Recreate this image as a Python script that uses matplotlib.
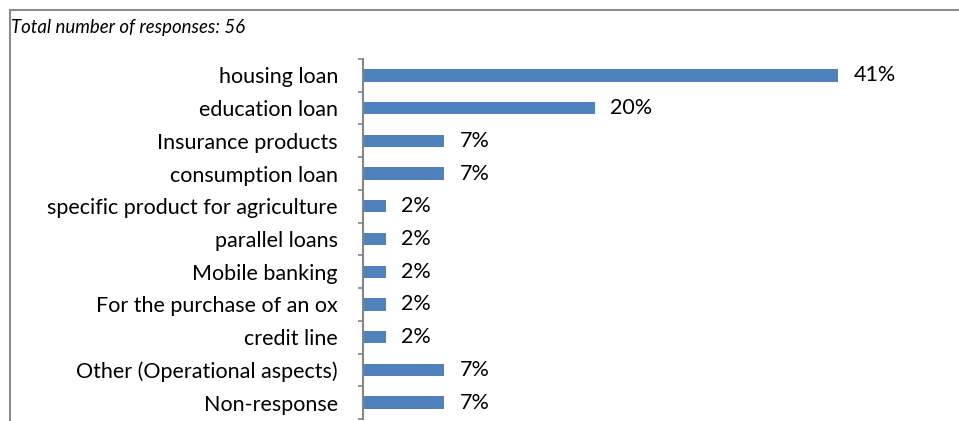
import numpy as np
import matplotlib
matplotlib.use("Agg")
import matplotlib.pyplot as plt
from matplotlib.lines import Line2D

# Responses per product type (share of 56 responses, in %)
categories = [
    "housing loan",
    "education loan",
    "Insurance products",
    "consumption loan",
    "specific product for agriculture",
    "parallel loans",
    "Mobile banking",
    "For the purchase of an ox",
    "credit line",
    "Other (Operational aspects)",
    "Non-response",
]
shares = [41, 20, 7, 7, 2, 2, 2, 2, 2, 7, 7]
value_labels = [f"{v}%" for v in shares]
note = "Total number of responses: 56"

BAR_COLOR = "#4F81BD"
AXIS_GRAY = "#868686"
FONT = "Lato"

W, H = 959, 421
fig = plt.figure(figsize=(W / 100, H / 100), dpi=100)

# plot area in pixel coordinates
left_px, top_px, bottom_px = 363, 59, 419
xmax = 50
px_per_unit = 11.59
ax = fig.add_axes([left_px / W, 1 - bottom_px / H,
                   xmax * px_per_unit / W, (bottom_px - top_px) / H])

y = np.arange(len(categories))
ax.barh(y, shares, height=0.38, color=BAR_COLOR, edgecolor="none")
ax.set_xlim(0, xmax)
ax.set_ylim(len(categories) - 0.5, -0.5)

for yi, v, lab in zip(y, shares, value_labels):
    ax.annotate(lab, xy=(v, yi), xytext=(11, 0), textcoords="offset points",
                ha="left", va="center", fontsize=15.5, family=FONT, color="black")

# category labels on major ticks, tick marks at category boundaries
ax.set_yticks(y)
ax.set_yticklabels(categories, fontsize=15.5, family=FONT)
ax.tick_params(axis="y", which="major", length=0, pad=18)
ax.set_yticks(np.arange(-0.5, len(categories)), minor=True)
ax.tick_params(axis="y", which="minor", length=3.6, width=1.2, color=AXIS_GRAY, direction="out")

ax.set_xticks([])
for side in ["top", "right", "bottom"]:
    ax.spines[side].set_visible(False)
ax.spines["left"].set_color(AXIS_GRAY)
ax.spines["left"].set_linewidth(1.5)

# frame around the chart
fig.add_artist(Line2D([9.5 / W, 1], [1 - 10 / H, 1 - 10 / H], color="#8c8c8c", lw=1.5,
                      transform=fig.transFigure))
fig.add_artist(Line2D([10 / W, 10 / W], [0, 1 - 9.5 / H], color="#8c8c8c", lw=1.5,
                      transform=fig.transFigure))

fig.text(11 / W, 1 - 28 / H, note, ha="left", va="center", fontsize=13.4,
         style="italic", family=FONT)

fig.savefig("out.png", dpi=100)
